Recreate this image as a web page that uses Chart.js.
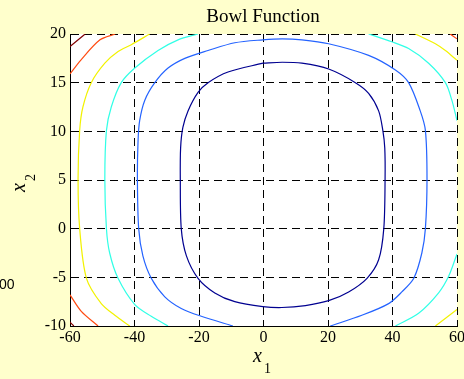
<!DOCTYPE html>
<html>
<head>
<meta charset="utf-8">
<script src="https://cdn.jsdelivr.net/npm/chart.js@4/dist/chart.umd.min.js"></script>
<style>
  body { margin: 0; background: #ffffcc; }
  canvas { display: block; }
</style>
</head>
<body>
<canvas id="bowlChart" width="464" height="379"></canvas>
<script>
    // Tick values
    var xTicks = [-60, -40, -20, 0, 20, 40, 60];
    var yTicks = [-10, -5, 0, 5, 10, 15, 20];

    // Contour lines, [x1, x2] pairs, innermost level first
    var navyLevel = [[-0.2, 17.0], [-11.0, 16.1], [-17.2, 15.0], [-20.3, 14.0], [-23.4, 12.1], [-25.0, 10.4],
        [-25.7, 8.3], [-25.8, 5.1], [-25.5, 0], [-23.9, -2.8], [-20.3, -5.1], [-15.1, -6.6], [-8.9, -7.5],
        [-0.2, -8.0], [5.7, -8.1], [13.0, -7.9], [20.2, -7.4], [26.4, -6.5], [32.1, -5.1], [35.7, -3.2],
        [37.3, 0], [37.7, 5.1], [37.6, 8.3], [37.0, 10.1], [35.7, 12.1], [32.6, 13.9], [28.5, 15.0],
        [20.2, 16.4], [11.9, 17.0], [5.8, 17.1], [-0.2, 17.0]];
    var blueLevel = [[-9.5, -10], [-19.3, -9.0], [-25.5, -8.2], [-30.6, -7.0], [-34.8, -5.1], [-37.4, -2.8],
        [-38.7, 0], [-39.1, 5.1], [-38.9, 9.0], [-38.4, 11.1], [-36.8, 13.2], [-33.7, 15.0], [-29.6, 16.5],
        [-24.4, 17.5], [-17.2, 18.3], [-8.9, 19.1], [-0.2, 19.4], [5.8, 19.5], [11.9, 19.4], [20.2, 19.0],
        [32.6, 17.8], [40.9, 16.3], [45.0, 15.0], [48.6, 12.1], [50.2, 10.1], [50.7, 5.1], [50.2, 0],
        [49.1, -2.5], [46.6, -5.1], [42.9, -6.5], [38.8, -7.7], [30.5, -8.9], [20.7, -10]];
    var cyanLeft = [[-20.3, 20], [-26.5, 19.4], [-32.7, 18.3], [-39.9, 16.5], [-44.1, 15.0], [-47.2, 12.5],
        [-48.7, 10.1], [-49.2, 5.1], [-48.7, 0], [-47.7, -2.5], [-45.1, -5.1], [-39.9, -7.8], [-34.8, -9.0],
        [-29.6, -10]];
    var cyanTopRight = [[32.6, 20], [39.8, 19.2], [45.0, 18.5], [51.2, 17.0], [56.4, 15.0], [58.4, 13.2], [60, 11.1]];
    var cyanBottomRight = [[60, -2.6], [57.4, -4.9], [54.3, -6.6], [48.1, -8.7], [40.9, -10]];
    var yellowLeft = [[-35.3, 20], [-41.0, 18.9], [-45.1, 18.2], [-49.2, 17.0], [-53.4, 15.0], [-56.0, 12.5],
        [-57.0, 10.1], [-57.5, 5.1], [-57.0, 0], [-54.9, -5.1], [-50.3, -7.7], [-46.1, -8.9], [-41.5, -10]];
    var yellowTopRight = [[47.1, 20], [53.3, 19.0], [56.4, 18.3], [60, 17.3]];
    var yellowBottomRight = [[53.3, -10], [60, -8.3]];
    var redTopLeft = [[-46.0, 20], [-50.7, 19.4], [-56.7, 17.3], [-60, 15.9]];
    var redBottomLeft = [[-60, -6.8], [-56.5, -8.5], [-51.3, -10]];
    var redTopRight = [[57.9, 20], [60, 19.5]];
    var darkRedTopLeft = [[-55.3, 20], [-60, 18.7]];
    var darkRedBottomLeft = [[-60, -9.6], [-58.8, -10]];

    function toPoints(arr) {
        return arr.map(function (p) { return { x: p[0], y: p[1] }; });
    }

    function contour(arr, color) {
        return {
            data: toPoints(arr),
            showLine: true,
            borderColor: color,
            borderWidth: 1.2,
            pointRadius: 0,
            tension: 0.3,
            fill: false
        };
    }

    var serif = '"Liberation Serif", "Times New Roman", serif';
    var dash = [8, 5];

    // Background, white plot area, title and axis labels
    var decorations = {
        id: 'decorations',
        beforeDraw: function (chart) {
            var ctx = chart.ctx, a = chart.chartArea;
            ctx.save();
            ctx.fillStyle = '#ffffcc';
            ctx.fillRect(0, 0, chart.width, chart.height);
            ctx.fillStyle = '#ffffff';
            ctx.fillRect(a.left, a.top, a.right - a.left, a.bottom - a.top);
            ctx.restore();
        },
        afterDraw: function (chart) {
            var ctx = chart.ctx;
            ctx.save();
            ctx.fillStyle = '#000000';
            ctx.textBaseline = 'alphabetic';
            ctx.textAlign = 'center';
            ctx.font = '19px ' + serif;
            ctx.fillText('Bowl Function', 263, 22);

            ctx.textAlign = 'left';
            ctx.font = 'italic 20px ' + serif;
            ctx.fillText('x', 253, 362);
            ctx.font = '14px ' + serif;
            ctx.fillText('1', 264, 373);

            ctx.translate(25, 192);
            ctx.rotate(-Math.PI / 2);
            ctx.font = 'italic 20px ' + serif;
            ctx.fillText('x', 0, 0);
            ctx.font = '14px ' + serif;
            ctx.fillText('2', 11, 10);
            ctx.restore();

            ctx.save();
            ctx.fillStyle = '#000000';
            ctx.font = '14px "Liberation Sans", Arial, sans-serif';
            ctx.fillText('00', -1, 289);
            ctx.restore();
        }
    };

    function noEdgePadding(scale) {
        scale.paddingLeft = 0;
        scale.paddingRight = 0;
        scale.paddingTop = 0;
        scale.paddingBottom = 0;
    }

    var ctxBowl = document.getElementById('bowlChart').getContext('2d');
    new Chart(ctxBowl, {
        type: 'scatter',
        data: {
            datasets: [
                contour(navyLevel, '#000090'),
                contour(blueLevel, '#2463ff'),
                contour(cyanLeft, '#30ffe6'),
                contour(cyanTopRight, '#30ffe6'),
                contour(cyanBottomRight, '#30ffe6'),
                contour(yellowLeft, '#f2f200'),
                contour(yellowTopRight, '#f2f200'),
                contour(yellowBottomRight, '#f2f200'),
                contour(redTopLeft, '#ff4a10'),
                contour(redBottomLeft, '#ff4a10'),
                contour(redTopRight, '#ff4a10'),
                contour(darkRedTopLeft, '#800000'),
                contour(darkRedBottomLeft, '#800000')
            ]
        },
        options: {
            responsive: false,
            animation: false,
            layout: {
                padding: { left: 0, top: 34, right: 7, bottom: 0 }
            },
            plugins: {
                legend: { display: false },
                tooltip: { enabled: false }
            },
            scales: {
                x: {
                    type: 'linear',
                    min: -60,
                    max: 60,
                    afterFit: function (scale) {
                        scale.height = 53;
                        noEdgePadding(scale);
                    },
                    afterBuildTicks: function (scale) {
                        scale.ticks = xTicks.map(function (v) { return { value: v }; });
                    },
                    grid: { color: '#000000', lineWidth: 1, drawTicks: false },
                    border: { display: true, color: '#000000', width: 1, dash: dash },
                    ticks: {
                        padding: 2,
                        color: '#000000',
                        maxRotation: 0,
                        autoSkip: false,
                        font: { family: serif, size: 16 }
                    }
                },
                y: {
                    type: 'linear',
                    min: -10,
                    max: 20,
                    afterFit: function (scale) {
                        scale.width = 70;
                        noEdgePadding(scale);
                    },
                    afterBuildTicks: function (scale) {
                        scale.ticks = yTicks.map(function (v) { return { value: v }; });
                    },
                    grid: { color: '#000000', lineWidth: 1, drawTicks: false },
                    border: { display: true, color: '#000000', width: 1, dash: dash },
                    ticks: {
                        padding: 4,
                        color: '#000000',
                        autoSkip: false,
                        font: { family: serif, size: 16 }
                    }
                }
            }
        },
        plugins: [decorations]
    });
</script>
</body>
</html>
